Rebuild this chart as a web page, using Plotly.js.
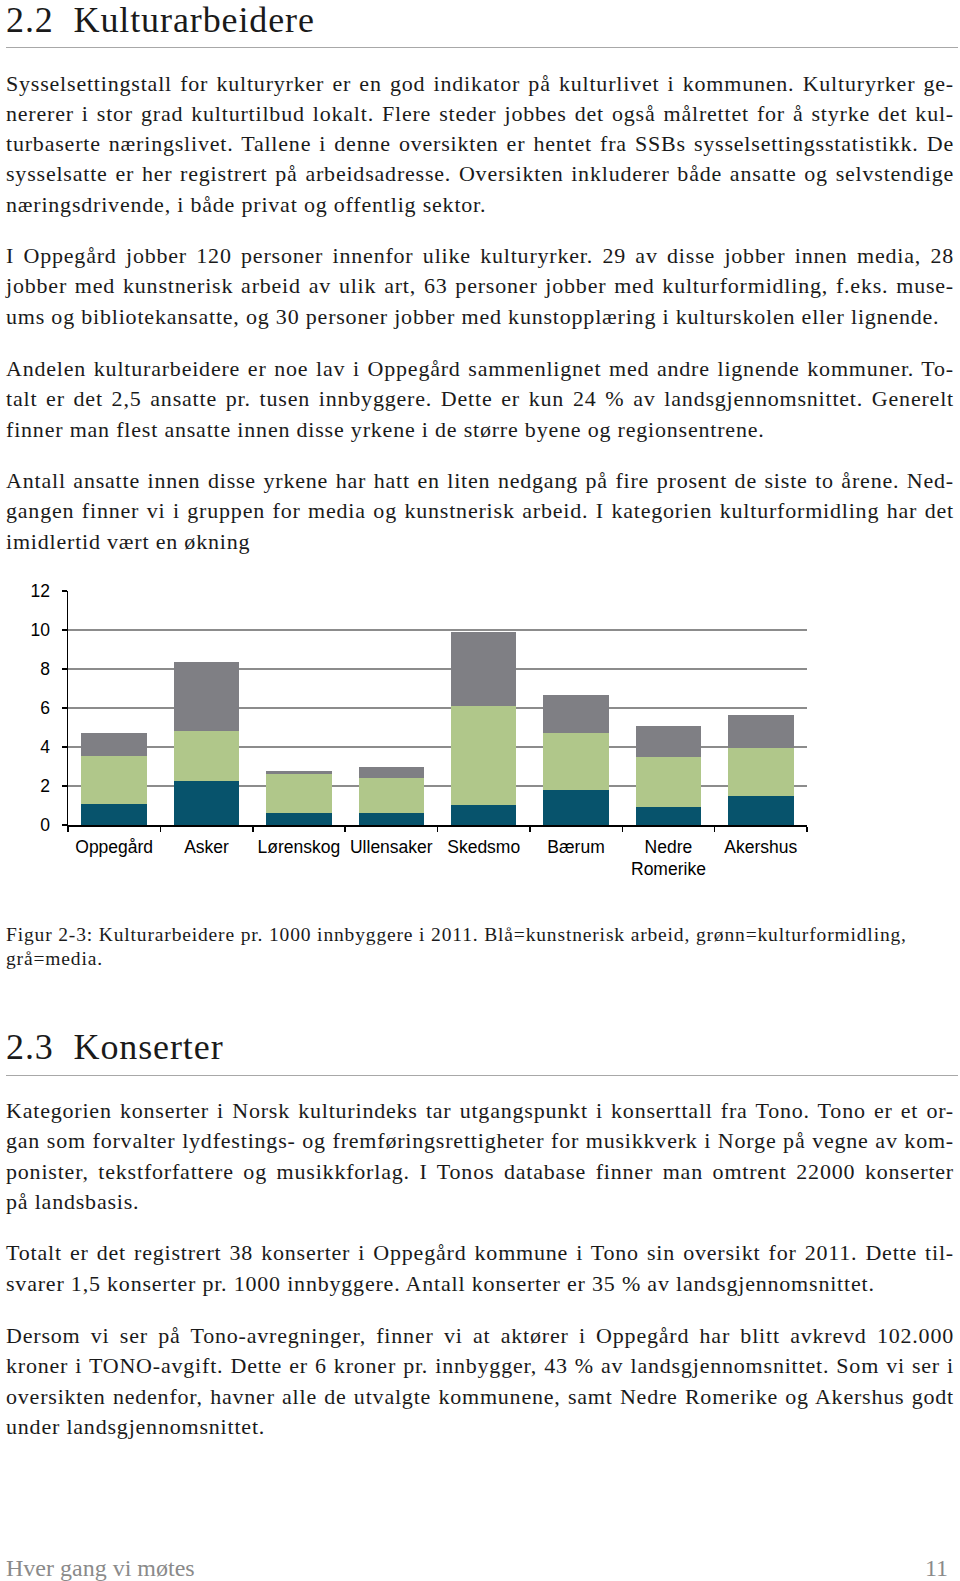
<!DOCTYPE html>
<html>
<head>
<meta charset="utf-8">
<script src="https://cdn.plot.ly/plotly-3.0.1.min.js"></script>
<style>
  html, body { margin:0; padding:0; background:#fff; }
  body { width:960px; height:1581px; position:relative; overflow:hidden; font-family:"Liberation Serif", "Times New Roman", serif; color:#1a1a1a; }
  .h { position:absolute; left:6px; font-size:36px; letter-spacing:0.9px; white-space:nowrap; line-height:40px; }
  .rule { position:absolute; left:6px; width:952px; height:0; border-top:1.5px solid #a8a8a8; }
  .p { position:absolute; left:6px; width:948px; font-size:22px; letter-spacing:0.8px; }
  .p .l { display:block; white-space:nowrap; line-height:30.25px; height:30.25px; text-align:justify; text-align-last:justify; }
  .p .l.last { text-align-last:left; }
  .cap { position:absolute; left:6px; font-size:19.5px; letter-spacing:0.85px; }
  .cap .l { display:block; white-space:nowrap; line-height:24.2px; height:24.2px; }
  #chart { position:absolute; left:0; top:560px; width:960px; height:340px; }
  .foot { position:absolute; font-size:24px; color:#8a8a8a; white-space:nowrap; line-height:26px; }
</style>
</head>
<body>
<div class="h" style="top:0px;">2.2&nbsp;&nbsp;Kulturarbeidere</div>
<div class="rule" style="top:47px;"></div>
<div id="paras"></div>
<div id="chart"></div>
<div class="cap" style="top:922.7px;">
  <span class="l">Figur 2-3: Kulturarbeidere pr. 1000 innbyggere i 2011. Blå=kunstnerisk arbeid, grønn=kulturformidling,</span>
  <span class="l">grå=media.</span>
</div>
<div class="h" style="top:1027px;">2.3&nbsp;&nbsp;Konserter</div>
<div class="rule" style="top:1075px;"></div>
<div class="foot" style="left:6px; top:1555px;">Hver gang vi møtes</div>
<div class="foot" style="right:12px; top:1555px;">11</div>

<script>
// ---- Chart data ----
var categories = ["Oppegård", "Asker", "Lørenskog", "Ullensaker", "Skedsmo", "Bærum", "Nedre<br>Romerike", "Akershus"];
var kunstneriskArbeid = [1.09, 2.27, 0.63, 0.63, 1.04, 1.77, 0.94, 1.47];
var kulturformidling  = [2.47, 2.56, 2.01, 1.77, 5.08, 2.94, 2.54, 2.49];
var media             = [1.15, 3.51, 0.11, 0.57, 3.79, 1.96, 1.58, 1.68];
var yTickValues = [0, 2, 4, 6, 8, 10, 12];

// ---- Page text ----
var paragraphs = [
  { top: 68.6, lines: [
    "Sysselsettingstall for kulturyrker er en god indikator på kulturlivet i kommunen. Kulturyrker ge-",
    "nererer i stor grad kulturtilbud lokalt. Flere steder jobbes det også målrettet for å styrke det kul-",
    "turbaserte næringslivet. Tallene i denne oversikten er hentet fra SSBs sysselsettingsstatistikk. De",
    "sysselsatte er her registrert på arbeidsadresse. Oversikten inkluderer både ansatte og selvstendige",
    "næringsdrivende, i både privat og offentlig sektor."]},
  { top: 241, lines: [
    "I Oppegård jobber 120 personer innenfor ulike kulturyrker. 29 av disse jobber innen media, 28",
    "jobber med kunstnerisk arbeid av ulik art, 63 personer jobber med kulturformidling, f.eks. muse-",
    "ums og bibliotekansatte, og 30 personer jobber med kunstopplæring i kulturskolen eller lignende."]},
  { top: 354, lines: [
    "Andelen kulturarbeidere er noe lav i Oppegård sammenlignet med andre lignende kommuner. To-",
    "talt er det 2,5 ansatte pr. tusen innbyggere. Dette er kun 24 % av landsgjennomsnittet. Generelt",
    "finner man flest ansatte innen disse yrkene i de større byene og regionsentrene."]},
  { top: 466, lines: [
    "Antall ansatte innen disse yrkene har hatt en liten nedgang på fire prosent de siste to årene. Ned-",
    "gangen finner vi i gruppen for media og kunstnerisk arbeid. I kategorien kulturformidling har det",
    "imidlertid vært en økning"]},
  { top: 1096.2, lines: [
    "Kategorien konserter i Norsk kulturindeks tar utgangspunkt i konserttall fra Tono. Tono er et or-",
    "gan som forvalter lydfestings- og fremføringsrettigheter for musikkverk i Norge på vegne av kom-",
    "ponister, tekstforfattere og musikkforlag. I Tonos database finner man omtrent 22000 konserter",
    "på landsbasis."]},
  { top: 1238.3, lines: [
    "Totalt er det registrert 38 konserter i Oppegård kommune i Tono sin oversikt for 2011. Dette til-",
    "svarer 1,5 konserter pr. 1000 innbyggere. Antall konserter er 35 % av landsgjennomsnittet."]},
  { top: 1321, lines: [
    "Dersom vi ser på Tono-avregninger, finner vi at aktører i Oppegård har blitt avkrevd 102.000",
    "kroner i TONO-avgift. Dette er 6 kroner pr. innbygger, 43 % av landsgjennomsnittet. Som vi ser i",
    "oversikten nedenfor, havner alle de utvalgte kommunene, samt Nedre Romerike og Akershus godt",
    "under landsgjennomsnittet."]}
];

var host = document.getElementById("paras");
paragraphs.forEach(function (p) {
  var d = document.createElement("div");
  d.className = "p";
  d.style.top = p.top + "px";
  p.lines.forEach(function (t, i) {
    var s = document.createElement("span");
    s.className = "l" + (i === p.lines.length - 1 ? " last" : "");
    s.textContent = t;
    d.appendChild(s);
  });
  host.appendChild(d);
});

// ---- Chart ----
function bar(name, vals, color) {
  return { type: "bar", name: name, x: categories, y: vals,
           marker: { color: color, line: { width: 0 } }, hoverinfo: "none" };
}
var data = [
  bar("Kunstnerisk arbeid", kunstneriskArbeid, "#07536c"),
  bar("Kulturformidling", kulturformidling, "#b0c78a"),
  bar("Media", media, "#7f7f84")
];
var layout = {
  width: 960, height: 340,
  margin: { l: 68, r: 153, t: 31, b: 75 },
  barmode: "stack",
  bargap: 0.29,
  showlegend: false,
  paper_bgcolor: "rgba(0,0,0,0)",
  plot_bgcolor: "rgba(0,0,0,0)",
  font: { family: "Liberation Sans, Arial, sans-serif", size: 17.5, color: "#000" },
  xaxis: {
    type: "category",
    showline: true, linecolor: "#000", linewidth: 1.5,
    ticks: "outside", tickson: "boundaries", ticklen: 5, tickcolor: "#000", tickwidth: 1.5,
    showgrid: false, zeroline: false, ticklabelstandoff: 5,
    tickfont: { size: 17.5 }
  },
  yaxis: {
    range: [0, 12], tickvals: yTickValues,
    showline: true, linecolor: "#000", linewidth: 1.5,
    ticks: "outside", ticklen: 5, tickcolor: "#000", tickwidth: 1.5,
    showgrid: true, gridcolor: "#8c8c8c", gridwidth: 1.2,
    zeroline: false, ticklabelstandoff: 8,
    tickfont: { size: 17.5 }
  }
};
Plotly.newPlot("chart", data, layout, { staticPlot: true, displayModeBar: false });
</script>
</body>
</html>
